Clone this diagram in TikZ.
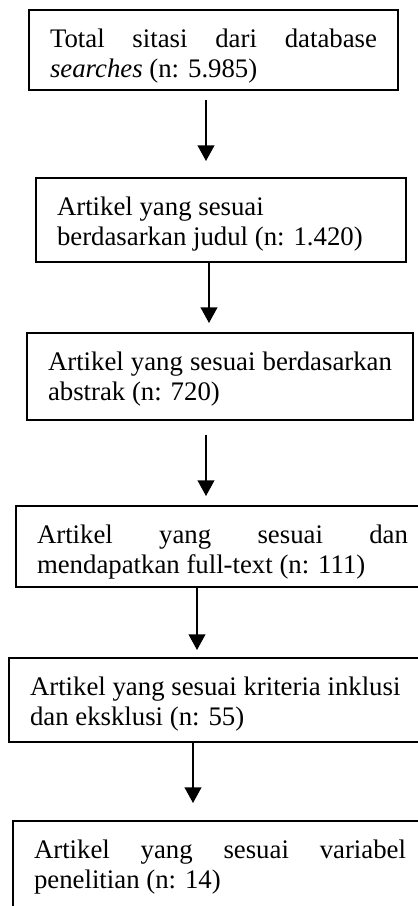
\documentclass[tikz,border=0pt]{standalone}
\usepackage{fontspec}
\setmainfont{Liberation Serif}
\usepackage{tikz}
\usetikzlibrary{positioning,arrows.meta}
\newdimen\upx \upx=0.448pt
\hyphenpenalty=10000
\exhyphenpenalty=10000

\begin{document}
\begin{tikzpicture}[x=\upx,y=-\upx,
    box/.style={draw,line width=0.9pt,anchor=north west,align=justify,
      inner xsep=21\upx,inner ysep=3pt,font=\fontsize{12}{13.8}\selectfont,
      execute at begin node={\rule{0pt}{13.6pt}},
      execute at end node={\rule[-#1]{0pt}{#1}}},
    box/.default=5pt,
    flow/.style={-{Triangle[width=7.5pt,length=7pt]},line width=0.7pt}]
  \useasboundingbox (0,0) rectangle (417,906);
  \node[box=2pt,text width=327\upx] (total) at (28,9)
    {Total sitasi dari database\linebreak \emph{searches} (n: 5.985)};
  \node[box=4.1pt,text width=328\upx] (judul) at (35,177)
    {Artikel yang sesuai\newline berdasarkan judul (n: 1.420)};
  \node[box=5.4pt,text width=344\upx] (abstrak) at (26,332)
    {Artikel yang sesuai berdasarkan\linebreak abstrak (n: 720)};
  \node[box=2.8pt,text width=371\upx] (fulltext) at (15,505)
    {Artikel yang sesuai dan\linebreak mendapatkan full-text (n: 111)};
  \node[box=4.1pt,text width=372\upx] (kriteria) at (8,657)
    {Artikel yang sesuai kriteria inklusi\newline dan eksklusi (n: 55)};
  \node[box=20pt,text width=372\upx] (variabel) at (12,820)
    {Artikel yang sesuai variabel\linebreak penelitian (n: 14)};
  \coordinate (x1) at (206,0);
  \coordinate (x2) at (209,0);
  \coordinate (x3) at (206,0);
  \coordinate (x4) at (197,0);
  \coordinate (x5) at (193,0);
  \draw[flow,shorten <=9\upx,shorten >=16\upx] (total.south -| x1) -- (judul.north -| x1);
  \draw[flow,shorten >=9\upx] (judul.south -| x2) -- (abstrak.north -| x2);
  \draw[flow,shorten <=14\upx,shorten >=9\upx] (abstrak.south -| x3) -- (fulltext.north -| x3);
  \draw[flow,shorten >=7\upx] (fulltext.south -| x4) -- (kriteria.north -| x4);
  \draw[flow,shorten >=17\upx] (kriteria.south -| x5) -- (variabel.north -| x5);
\end{tikzpicture}
\end{document}
